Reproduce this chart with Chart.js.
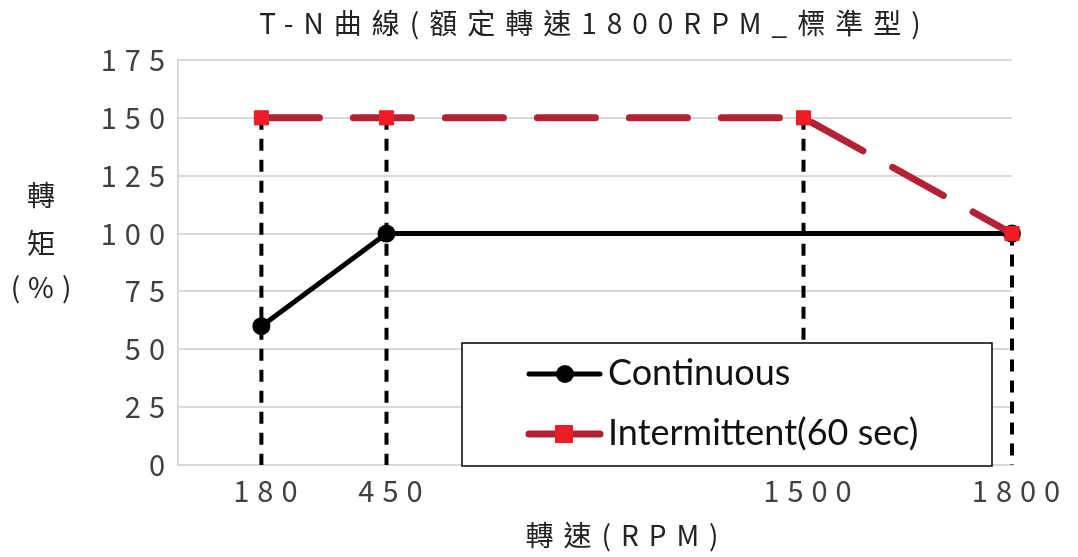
<!DOCTYPE html>
<html>
<head>
<meta charset="utf-8">
<script src="https://cdn.jsdelivr.net/npm/chart.js@4.4.1/dist/chart.umd.min.js"></script>
<style>
  html, body { margin: 0; padding: 0; background: #fff; }
  #wrap { width: 1078px; height: 557px; position: relative; }
</style>
</head>
<body>
<div id="wrap"><canvas id="tn"></canvas></div>
<script>
// speed axis: the sheet spaces the speeds unevenly, so empty slots fill the gaps
const speedLabels = ['', '', '180', '', '', '450', '', '', '', '', '', '', '', '', '', '1500', '', '', '', '', '1800'];
const contSpeed = ['180', '450', '1800'];
const contTorque = [60, 100, 100];
const interSpeed = ['180', '450', '1500', '1800'];
const interTorque = [150, 150, 150, 100];
const torqueTicks = [0, 25, 50, 75, 100, 125, 150, 175];

const chartTitle = 'T-N曲線(額定轉速1800RPM_標準型)';
const xTitle = '轉速(RPM)';
const yTitle = ['轉', '矩', '(%)'];
const seriesNames = ['Continuous', 'Intermittent(60 sec)'];

const cjk = '"Noto Sans CJK TC", "Noto Sans", sans-serif';

function pairs(xs, ys) {
    return xs.map(function(x, i) { return {x: x, y: ys[i]}; });
}

// titles, drop lines and the boxed legend
const decor = {
    id: 'decor',
    beforeDraw: function(chart) {
        chart.ctx.letterSpacing = '8px';
    },
    beforeDatasetsDraw: function(chart) {
        var ctx = chart.ctx, area = chart.chartArea;
        ctx.save();
        ctx.strokeStyle = '#000';
        ctx.lineWidth = 4;
        ctx.setLineDash([12, 9]);
        chart.getDatasetMeta(1).data.forEach(function(p) {
            ctx.beginPath();
            ctx.moveTo(p.x, p.y);
            ctx.lineTo(p.x, area.bottom);
            ctx.stroke();
        });
        ctx.restore();
    },
    afterDraw: function(chart) {
        var ctx = chart.ctx;
        ctx.save();
        ctx.fillStyle = '#222';
        ctx.textAlign = 'center';
        ctx.textBaseline = 'middle';
        ctx.font = '28px ' + cjk;
        ctx.letterSpacing = '10px';
        ctx.fillText(chartTitle, 595, 23);
        ctx.font = '28px ' + cjk;
        ctx.letterSpacing = '10px';
        ctx.fillText(xTitle, 627, 535);
        ctx.letterSpacing = '8px';
        [195, 243, 287].forEach(function(y, i) { ctx.fillText(yTitle[i], 45, y); });

        // legend box
        ctx.letterSpacing = '0px';
        ctx.fillStyle = '#fff';
        ctx.fillRect(462, 343, 530, 123);
        ctx.strokeStyle = '#000';
        ctx.lineWidth = 1.5;
        ctx.strokeRect(462, 343, 530, 123);
        chart.data.datasets.forEach(function(ds, i) {
            var y = [374, 434][i];
            ctx.setLineDash([]);
            ctx.lineCap = 'round';
            ctx.strokeStyle = ds.borderColor;
            ctx.lineWidth = ds.borderWidth;
            ctx.beginPath();
            ctx.moveTo(529, y);
            ctx.lineTo(600, y);
            ctx.stroke();
            ctx.fillStyle = ds.pointBackgroundColor;
            if (ds.pointStyle === 'rect') {
                ctx.fillRect(564 - 9, y - 9, 18, 18);
            } else {
                ctx.beginPath();
                ctx.arc(565, y, 9, 0, Math.PI * 2);
                ctx.fill();
            }
            ctx.fillStyle = '#111';
            ctx.textAlign = 'left';
            ctx.font = '36px Lato, "Open Sans", sans-serif';
            ctx.fillText(ds.label, 608, y - 1);
        });
        ctx.restore();
    }
};

new Chart(document.getElementById('tn'), {
    type: 'line',
    data: {
        labels: speedLabels,
        datasets: [{
            label: seriesNames[0],
            data: pairs(contSpeed, contTorque),
            borderColor: '#000',
            borderWidth: 5,
            pointStyle: 'circle',
            pointRadius: 9,
            pointBackgroundColor: '#000',
            pointBorderWidth: 0,
            order: 1
        }, {
            label: seriesNames[1],
            data: pairs(interSpeed, interTorque),
            borderColor: '#B22234',
            borderWidth: 7,
            borderDash: [58, 34],
            borderCapStyle: 'round',
            pointStyle: 'rect',
            pointRadius: 10,
            pointBackgroundColor: '#EE1D25',
            pointBorderColor: '#EE1D25',
            pointBorderWidth: 1,
            order: 0
        }]
    },
    options: {
        responsive: true,
        maintainAspectRatio: false,
        animation: false,
        layout: { padding: { left: 78, right: 66, top: 60, bottom: 40 } },
        plugins: {
            legend: { display: false },
            title: { display: false },
            tooltip: { enabled: false }
        },
        scales: {
            x: {
                type: 'category',
                offset: false,
                grid: { display: false },
                border: { color: '#d9d9d9', width: 2 },
                ticks: {
                    autoSkip: false,
                    maxRotation: 0,
                    padding: 1,
                    labelOffset: 8,
                    color: '#404040',
                    font: { family: cjk, size: 29 }
                },
                afterFit: function(scale) { scale.height = 52; }
            },
            y: {
                min: 0,
                max: 175,
                afterBuildTicks: function(scale) {
                    scale.ticks = torqueTicks.map(function(v) { return {value: v}; });
                },
                grid: { color: '#d9d9d9', lineWidth: 2, drawTicks: false },
                border: { color: '#d9d9d9', width: 2 },
                ticks: {
                    padding: 5,
                    color: '#404040',
                    font: { family: cjk, size: 29 }
                },
                afterFit: function(scale) { scale.width = 100; }
            }
        }
    },
    plugins: [decor]
});
</script>
</body>
</html>
